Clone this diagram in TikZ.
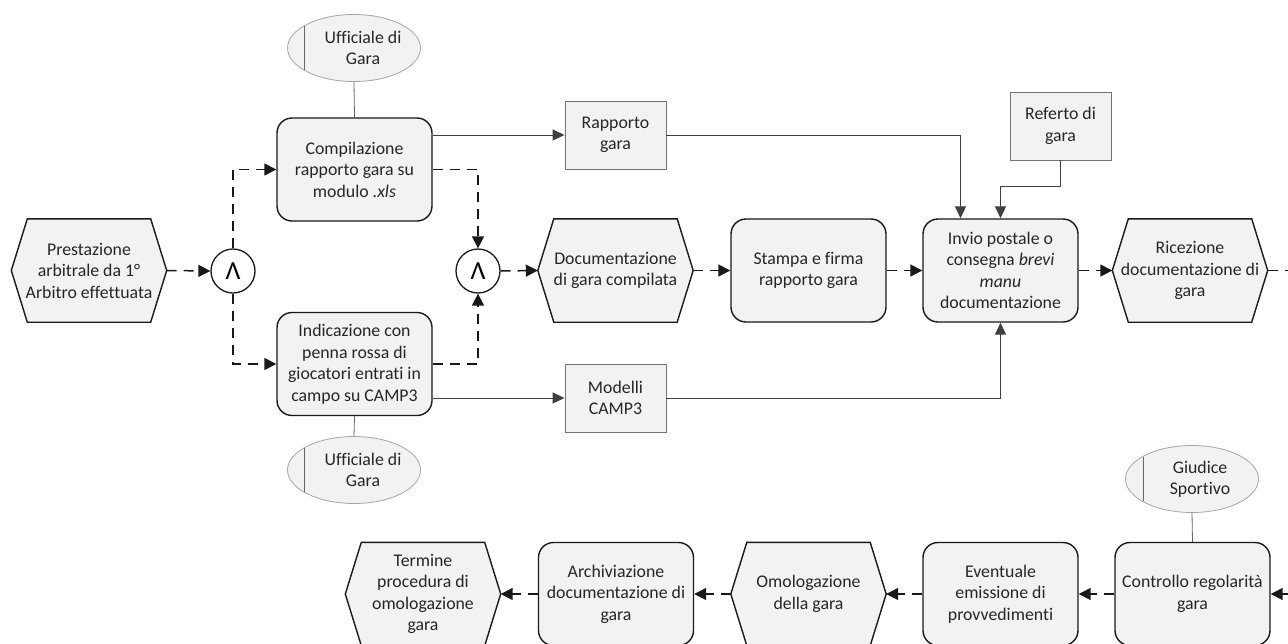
\documentclass[tikz,border=0pt]{standalone}
\usepackage{fontspec}
\setmainfont{Carlito}[Ligatures=NoCommon]
\usetikzlibrary{arrows.meta,shapes.geometric,calc}
\pgfdeclarelayer{bg}
\pgfsetlayers{bg,main}
\definecolor{fillg}{RGB}{242,242,242}
\newcommand\drawhexev[1]{%
  \begin{pgfonlayer}{bg}
  \path[hexline] (#1.west) -- ($(#1.north west)+(16,0)$) -- ($(#1.north east)+(-16,0)$) -- (#1.east) -- ($(#1.south east)+(-16,0)$) -- ($(#1.south west)+(16,0)$) -- cycle;
  \end{pgfonlayer}}
\begin{document}
\begin{tikzpicture}[x=1pt,y=-1pt,
  txt/.style={font=\fontsize{17.8}{21.5}\selectfont, text=black!85, align=center, inner sep=0pt},
  funcbox/.style={txt, draw=black!90, line width=1.4pt, fill=fillg, rounded corners=15pt, minimum width=155pt, minimum height=103pt},
  evbox/.style={txt, minimum width=155pt, minimum height=103pt},
  hexline/.style={draw=black!90, line width=1.4pt, fill=fillg, line join=miter},
  infbox/.style={txt, draw=black!55, line width=0.9pt, fill=fillg, minimum width=101pt, minimum height=68pt},
  orgell/.style={ellipse, draw=black!35, line width=0.8pt, fill=fillg, minimum width=133pt, minimum height=67pt, inner sep=0pt},
  andc/.style={circle, draw=black!90, line width=1.3pt, fill=white, minimum size=44pt, inner sep=0pt, font=\fontsize{26}{26}\selectfont},
  ctrlflow/.style={draw=black!90, line width=1.5pt, dash pattern=on 10pt off 7pt, -{Triangle[length=12pt,width=12pt]}},
  ctrlend/.style={draw=black!90, line width=1.5pt, dash pattern=on 10pt off 7pt},
  infoflow/.style={draw=black!75, line width=1pt, -{Triangle[length=12pt,width=11pt]}},
  assoc/.style={draw=black!60, line width=0.8pt}]
\useasboundingbox (0,0) rectangle (1288,643);

% ---------- top row ----------
\node[evbox] (pre) at (89,270.5) {Prestazione\\arbitrale da 1°\\Arbitro effettuata};
\drawhexev{pre}
\node[andc] (and1) at (233,271) {Λ};
\node[funcbox] (comp) at (354.5,169.5) {Compilazione\\rapporto gara su\\modulo \textit{.xls}};
\node[funcbox] (ind) at (354.5,364) {Indicazione con\\penna rossa di\\giocatori entrati in\\campo su CAMP3};
\node[orgell] (u1) at (354,48) {};
\node[txt] (u1t) at ($(u1.center)+(9,0)$) {Ufficiale di\\Gara};
\node[orgell] (u2) at (354,470) {};
\node[txt] (u2t) at ($(u2.center)+(9,0)$) {Ufficiale di\\Gara};
\node[andc] (and2) at (478,271) {Λ};
\node[evbox] (doc) at (615.5,270.5) {Documentazione\\di gara compilata};
\drawhexev{doc}
\node[funcbox] (stp) at (808.5,270.5) {Stampa e firma\\rapporto gara};
\node[funcbox] (inv) at (1000.5,270.5) {Invio postale o\\consegna \textit{brevi}\\\textit{manu}\\documentazione};
\node[evbox] (ric) at (1190,270.5) {Ricezione\\documentazione di\\gara};
\drawhexev{ric}
\node[infbox] (rap) at (615.5,135) {Rapporto\\gara};
\node[infbox] (mod) at (615.5,398) {Modelli\\CAMP3};
\node[infbox] (ref) at (1060.5,126) {Referto di\\gara};
\coordinate (rend) at (1288,270.5);

% ---------- bottom row ----------
\node[orgell] (giu) at (1192,479) {};
\node[txt] (giut) at ($(giu.center)+(8,0)$) {Giudice\\Sportivo};
\node[funcbox] (ctl) at (1192.5,594) {Controllo regolarità\\gara};
\node[funcbox] (evt) at (1000.5,594) {Eventuale\\emissione di\\provvedimenti};
\node[evbox] (omo) at (808.5,594) {Omologazione\\della gara};
\drawhexev{omo}
\node[funcbox] (arc) at (616,594) {Archiviazione\\documentazione di\\gara};
\node[evbox] (ter) at (423,594) {Termine\\procedura di\\omologazione\\gara};
\drawhexev{ter}
\coordinate (rin) at (1288,594);

% ---------- organisation lines ----------
\draw[assoc] ($(u1.center)+(-50,-22)$) -- ($(u1.center)+(-50,22)$);
\draw[assoc] ($(u2.center)+(-50,-22)$) -- ($(u2.center)+(-50,22)$);
\draw[assoc] ($(giu.center)+(-49,-22)$) -- ($(giu.center)+(-49,22)$);
\draw[assoc] (u1.south) -- (comp.north);
\draw[assoc] (u2.north) -- (ind.south);
\draw[assoc] (giu.south) -- (ctl.north);

% ---------- control flow ----------
\draw[ctrlflow] (pre.east) -- (and1.west);
\draw[ctrlflow] (and1.north) |- (comp.west);
\draw[ctrlflow] (and1.south) |- (ind.west);
\draw[ctrlflow] (comp.east) -| (and2.north);
\draw[ctrlflow] (ind.east) -| (and2.south);
\draw[ctrlflow] (and2.east) -- (doc.west);
\draw[ctrlflow] (doc.east) -- (stp.west);
\draw[ctrlflow] (stp.east) -- (inv.west);
\draw[ctrlflow] (inv.east) -- (ric.west);
\draw[ctrlend] (ric.east) -- (rend);
\draw[ctrlflow] (rin) -- (ctl.east);
\draw[ctrlflow] (ctl.west) -- (evt.east);
\draw[ctrlflow] (evt.west) -- (omo.east);
\draw[ctrlflow] (omo.west) -- (arc.east);
\draw[ctrlflow] (arc.west) -- (ter.east);

% ---------- information flow ----------
\draw[infoflow] (comp.east |- rap.west) -- (rap.west);
\draw[infoflow] (rap.east) -| ($(inv.north)+(-40,0)$);
\draw[infoflow] (ref.south) -- ++(0,26) -| (inv.north);
\draw[infoflow] (ind.east |- mod.west) -- (mod.west);
\draw[infoflow] (mod.east) -| (inv.south);
\end{tikzpicture}
\end{document}
